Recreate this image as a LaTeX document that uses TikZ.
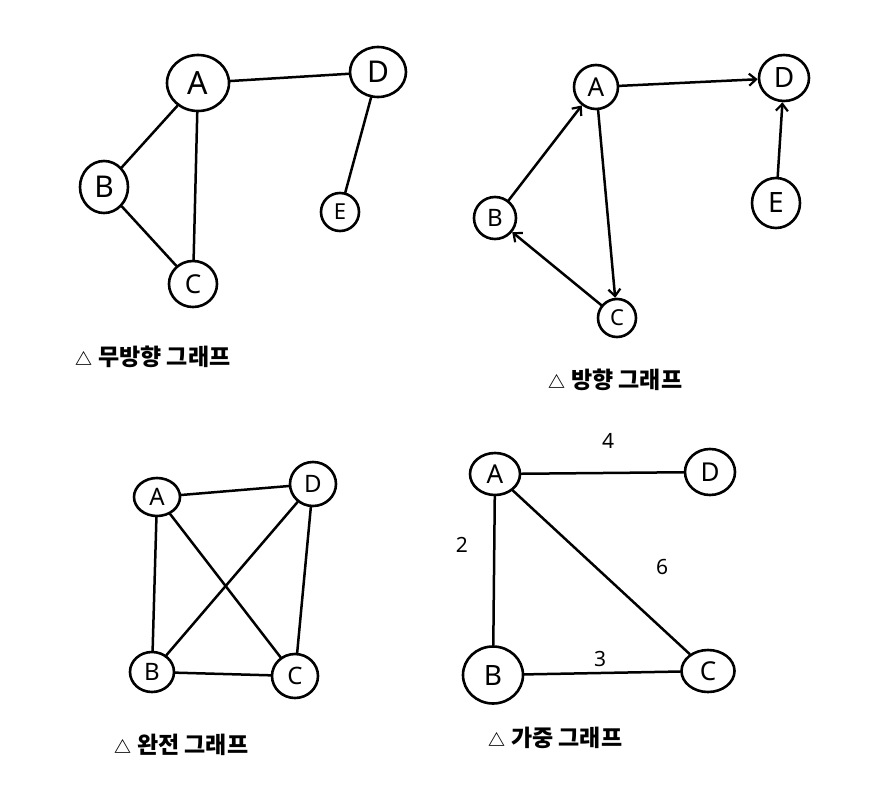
\documentclass[tikz,border=0pt]{standalone}
\usepackage{fontspec}
\newfontfamily\kr{Noto Sans CJK KR}
\newfontfamily\lat{Noto Sans}
\usetikzlibrary{shapes.geometric,arrows.meta}
\newcommand{\tri}{{\fontsize{17}{17}\selectfont △}\hspace{6pt}}
\tikzset{
  vtx/.style={draw,ellipse,line width=2.6pt,inner sep=0pt},
  edge/.style={line width=2.5pt,line cap=round},
  arr/.style={edge,-{Straight Barb[length=7pt,width=12pt,line width=2.2pt]}},
  captxt/.style={font=\kr\bfseries\fontsize{23}{23}\selectfont,anchor=west,inner sep=0pt},
  wt/.style={font=\lat\fontsize{21}{21}\selectfont,inner sep=0pt}
}
\begin{document}
\begin{tikzpicture}[x=1pt,y=-1pt]
\useasboundingbox[fill=white] (0,0) rectangle (870,792);
% Undirected graph
\node[vtx,minimum width=62pt,minimum height=56pt,font=\lat\fontsize{32}{32}\selectfont] (a1) at (198,83) {A};
\node[vtx,minimum width=56pt,minimum height=50pt,font=\lat\fontsize{30}{30}\selectfont] (d1) at (378,72) {D};
\node[vtx,minimum width=48pt,minimum height=52pt,font=\lat\fontsize{30}{30}\selectfont] (b1) at (104,187) {B};
\node[vtx,minimum width=38pt,minimum height=38pt,font=\lat\fontsize{22}{22}\selectfont] (e1) at (340,212) {E};
\node[vtx,minimum width=48pt,minimum height=46pt,font=\lat\fontsize{26}{26}\selectfont] (c1) at (193,284) {C};
\draw[edge] (a1) -- (d1);
\draw[edge] (a1) -- (b1);
\draw[edge] (a1) -- (c1);
\draw[edge] (b1) -- (c1);
\draw[edge] (d1) -- (e1);
\node[captxt] (t1) at (75,357) {\tri 무방향 그래프};
% Directed graph
\node[vtx,minimum width=44pt,minimum height=44pt,font=\lat\fontsize{26}{26}\selectfont] (a2) at (596,87) {A};
\node[vtx,minimum width=50pt,minimum height=46pt,font=\lat\fontsize{28}{28}\selectfont] (d2) at (784,78) {D};
\node[vtx,minimum width=42pt,minimum height=42pt,font=\lat\fontsize{24}{24}\selectfont] (b2) at (495,218) {B};
\node[vtx,minimum width=48pt,minimum height=50pt,font=\lat\fontsize{28}{28}\selectfont] (e2) at (776,203) {E};
\node[vtx,minimum width=38pt,minimum height=38pt,font=\lat\fontsize{22}{22}\selectfont] (c2) at (617,318) {C};
\draw[arr] (a2) -- (d2);
\draw[arr] (b2) -- (a2);
\draw[arr] (a2) -- (c2);
\draw[arr] (c2) -- (b2);
\draw[arr] (e2) -- (d2);
\node[captxt] (t2) at (548,380) {\tri 방향 그래프};
% Complete graph
\node[vtx,minimum width=46pt,minimum height=38pt,font=\lat\fontsize{24}{24}\selectfont] (a3) at (157,497) {A};
\node[vtx,minimum width=46pt,minimum height=44pt,font=\lat\fontsize{24}{24}\selectfont] (d3) at (313,484) {D};
\node[vtx,minimum width=44pt,minimum height=40pt,font=\lat\fontsize{24}{24}\selectfont] (b3) at (152,672) {B};
\node[vtx,minimum width=46pt,minimum height=44pt,font=\lat\fontsize{24}{24}\selectfont] (c3) at (295,676) {C};
\draw[edge] (a3) -- (d3);
\draw[edge] (a3) -- (b3);
\draw[edge] (a3) -- (c3);
\draw[edge] (d3) -- (b3);
\draw[edge] (d3) -- (c3);
\draw[edge] (b3) -- (c3);
\node[captxt] (t3) at (114,745) {\tri 완전 그래프};
% Weighted graph
\node[vtx,minimum width=50pt,minimum height=42pt,font=\lat\fontsize{26}{26}\selectfont] (a4) at (495,474) {A};
\node[vtx,minimum width=50pt,minimum height=46pt,font=\lat\fontsize{26}{26}\selectfont] (d4) at (710,472) {D};
\node[vtx,minimum width=60pt,minimum height=57pt,font=\lat\fontsize{28}{28}\selectfont] (b4) at (493,675) {B};
\node[vtx,minimum width=53pt,minimum height=42pt,font=\lat\fontsize{26}{26}\selectfont] (c4) at (708,671) {C};
\draw[edge] (a4) -- (d4);
\draw[edge] (a4) -- (b4);
\draw[edge] (a4) -- (c4);
\draw[edge] (b4) -- (c4);
\node[wt] (w4) at (608,441) {4};
\node[wt] (w2) at (462,545) {2};
\node[wt] (w6) at (662,567) {6};
\node[wt] (w3) at (600,659) {3};
\node[captxt] (t4) at (488,738) {\tri 가중 그래프};
\end{tikzpicture}
\end{document}
